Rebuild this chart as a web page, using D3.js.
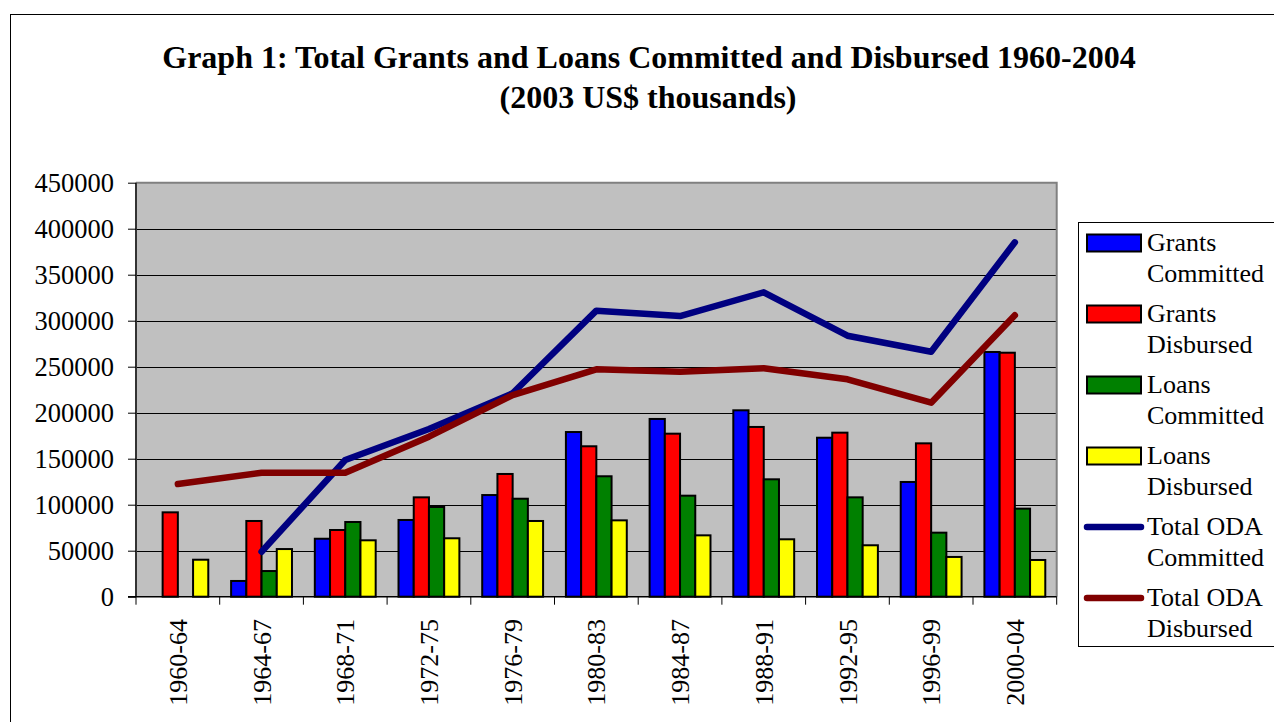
<!DOCTYPE html>
<html>
<head>
<meta charset="utf-8">
<script src="https://cdn.jsdelivr.net/npm/d3@7"></script>
<style>
  html, body { margin: 0; padding: 0; background: #fff; }
  svg { display: block; }
  text { font-family: "Liberation Serif", "Times New Roman", serif; fill: #000; }
</style>
</head>
<body>
<svg id="chart" width="1274" height="722"></svg>
<script>
// Four-year periods on the category axis
const periods = ["1960-64", "1964-67", "1968-71", "1972-75", "1976-79", "1980-83",
                 "1984-87", "1988-91", "1992-95", "1996-99", "2000-04"];

// Bar series (2003 US$ thousands)
const grantsCommitted = [0, 17100, 63000, 83400, 110500, 179000, 193200, 202600, 172800, 124700, 266000];
const grantsDisbursed = [91700, 82300, 72500, 108000, 133400, 163500, 177200, 184500, 178300, 166700, 265200];
const loansCommitted  = [0, 27900, 81200, 97500, 106500, 130900, 109800, 127600, 108000, 69600, 95700];
const loansDisbursed  = [40200, 51800, 61300, 63500, 82300, 83000, 66700, 62400, 55900, 43200, 39900];

// Line series (2003 US$ thousands)
const totalOdaCommitted = [null, 48900, 148600, 182300, 221100, 310900, 305100, 330900, 283700, 266300, 385200];
const totalOdaDisbursed = [122500, 134800, 134800, 173900, 219200, 247200, 244600, 248300, 236300, 210900, 305900];

// Value-axis ticks
const yTicks = [0, 50000, 100000, 150000, 200000, 250000, 300000, 350000, 400000, 450000];

const barSeries = [
  { name: ["Grants", "Committed"], values: grantsCommitted, color: "#0000FF" },
  { name: ["Grants", "Disbursed"], values: grantsDisbursed, color: "#FF0000" },
  { name: ["Loans", "Committed"], values: loansCommitted, color: "#008000" },
  { name: ["Loans", "Disbursed"], values: loansDisbursed, color: "#FFFF00" }
];
const lineSeries = [
  { name: ["Total ODA", "Committed"], values: totalOdaCommitted, color: "#000080" },
  { name: ["Total ODA", "Disbursed"], values: totalOdaDisbursed, color: "#800000" }
];

const svg = d3.select("#chart");

// Outer chart frame
svg.append("rect")
  .attr("x", 10.5).attr("y", 14.5)
  .attr("width", 1300).attr("height", 760)
  .attr("fill", "#fff").attr("stroke", "#000").attr("stroke-width", 1);

// Title
const title = svg.append("text")
  .attr("text-anchor", "middle")
  .style("font-weight", "bold")
  .style("font-size", "32px");
title.append("tspan").attr("x", 649).attr("y", 68)
  .text("Graph 1: Total Grants and Loans Committed and Disbursed 1960-2004");
title.append("tspan").attr("x", 648).attr("y", 108)
  .text("(2003 US$ thousands)");

// Plot area
const plot = { left: 136, top: 182.7, right: 1056.7, bottom: 596.7 };

const x = d3.scaleBand()
  .domain(periods)
  .range([plot.left, plot.right])
  .paddingInner(0).paddingOuter(0);

const xInner = d3.scaleBand()
  .domain(d3.range(barSeries.length))
  .range([0, x.bandwidth()])
  .paddingInner(0).paddingOuter(0.75);

const y = d3.scaleLinear()
  .domain([0, 450000])
  .range([plot.bottom, plot.top]);

svg.append("rect")
  .attr("x", plot.left).attr("y", plot.top)
  .attr("width", plot.right - plot.left).attr("height", plot.bottom - plot.top)
  .attr("fill", "#C0C0C0");

// Horizontal gridlines
svg.append("g")
  .selectAll("line")
  .data(yTicks.filter(t => t > 0 && t < 450000))
  .join("line")
  .attr("x1", plot.left).attr("x2", plot.right)
  .attr("y1", d => Math.round(y(d)) + 0.5).attr("y2", d => Math.round(y(d)) + 0.5)
  .attr("stroke", "#000").attr("stroke-width", 1.2);

// Plot-area border (top and right)
svg.append("path")
  .attr("d", `M${plot.left},${plot.top}H${plot.right}V${plot.bottom}`)
  .attr("fill", "none").attr("stroke", "#808080").attr("stroke-width", 2);

// Bars
const groups = svg.append("g")
  .selectAll("g")
  .data(barSeries)
  .join("g")
  .attr("fill", d => d.color);

groups.selectAll("rect")
  .data((s, si) => s.values.map((v, i) => ({ v, i, si })).filter(d => d.v > 0))
  .join("rect")
  .attr("x", d => x(periods[d.i]) + xInner(d.si))
  .attr("width", xInner.bandwidth())
  .attr("y", d => y(d.v))
  .attr("height", d => y(0) - y(d.v))
  .attr("stroke", "#000").attr("stroke-width", 2);

// Lines
const line = d3.line()
  .defined(d => d.v != null)
  .x(d => x(periods[d.i]) + x.bandwidth() / 2)
  .y(d => y(d.v));

svg.append("g")
  .selectAll("path")
  .data(lineSeries)
  .join("path")
  .attr("d", s => line(s.values.map((v, i) => ({ v, i }))))
  .attr("fill", "none")
  .attr("stroke", s => s.color)
  .attr("stroke-width", 6.5)
  .attr("stroke-linejoin", "round")
  .attr("stroke-linecap", "round");

// Value axis
const yAxis = svg.append("g")
  .attr("transform", `translate(${plot.left},0)`)
  .call(d3.axisLeft(y).tickValues(yTicks).tickFormat(d3.format("d")).tickSize(8).tickPadding(14));
yAxis.select(".domain").attr("stroke", "#333").attr("stroke-width", 2).attr("d", `M0,${plot.top}V${plot.bottom}`);
yAxis.selectAll(".tick line").attr("stroke", "#000");
yAxis.selectAll(".tick text")
  .style("font-family", "'Liberation Serif', 'Times New Roman', serif")
  .style("font-size", "26.5px").attr("fill", "#000");

// Category axis
const xAxis = svg.append("g");
xAxis.append("line")
  .attr("x1", plot.left - 8).attr("x2", plot.right)
  .attr("y1", plot.bottom).attr("y2", plot.bottom)
  .attr("stroke", "#000").attr("stroke-width", 1.5);
xAxis.selectAll("line.tick")
  .data(periods.map(p => x(p)).concat([plot.right]))
  .join("line").attr("class", "tick")
  .attr("x1", d => d).attr("x2", d => d)
  .attr("y1", plot.bottom).attr("y2", plot.bottom + 8)
  .attr("stroke", "#000").attr("stroke-width", 1);
xAxis.selectAll("text")
  .data(periods)
  .join("text")
  .attr("transform", d => `translate(${x(d) + x.bandwidth() / 2},619) rotate(-90)`)
  .attr("text-anchor", "end")
  .attr("dy", "0.35em")
  .style("font-size", "26px")
  .text(d => d);

// Legend
const legend = svg.append("g");
legend.append("rect")
  .attr("x", 1078.5).attr("y", 222.5)
  .attr("width", 220).attr("height", 424)
  .attr("fill", "#fff").attr("stroke", "#000").attr("stroke-width", 1);

const legendItems = barSeries.map(s => ({ ...s, kind: "bar" }))
  .concat(lineSeries.map(s => ({ ...s, kind: "line" })));

const item = legend.selectAll("g.item")
  .data(legendItems)
  .join("g").attr("class", "item")
  .attr("transform", (d, i) => `translate(0,${243 + i * 71})`);

item.filter(d => d.kind === "bar").append("rect")
  .attr("x", 1087).attr("y", -8.5)
  .attr("width", 54).attr("height", 17)
  .attr("fill", d => d.color).attr("stroke", "#000").attr("stroke-width", 2);

item.filter(d => d.kind === "line").append("line")
  .attr("x1", 1087).attr("x2", 1141)
  .attr("y1", 0).attr("y2", 0)
  .attr("stroke", d => d.color).attr("stroke-width", 6.5)
  .attr("stroke-linecap", "round");

const label = item.append("text")
  .style("font-size", "26px");
label.append("tspan").attr("x", 1147).attr("y", 8).text(d => d.name[0]);
label.append("tspan").attr("x", 1147).attr("y", 39).text(d => d.name[1]);
</script>
</body>
</html>
